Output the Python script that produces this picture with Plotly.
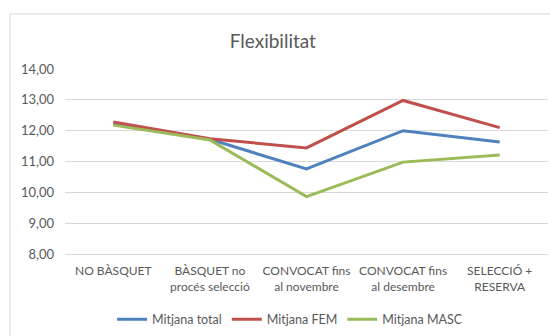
import plotly.graph_objects as go

categories = [
    "NO BÀSQUET",
    "BÀSQUET no<br>procés selecció",
    "CONVOCAT fins<br>al novembre",
    "CONVOCAT fins<br>al desembre",
    "SELECCIÓ +<br>RESERVA",
]
mitjana_total = [12.22, 11.72, 10.76, 12.00, 11.63]
mitjana_fem = [12.28, 11.74, 11.44, 12.98, 12.10]
mitjana_masc = [12.18, 11.70, 9.86, 10.98, 11.21]
y_ticks = [8, 9, 10, 11, 12, 13, 14]

series = [
    ("Mitjana total", mitjana_total, "#4F81BD"),
    ("Mitjana FEM", mitjana_fem, "#C0504D"),
    ("Mitjana MASC", mitjana_masc, "#9BBB59"),
]

font_family = "Lato, Open Sans, sans-serif"
text_color = "#595959"

fig = go.Figure()
for name, values, color in series:
    fig.add_trace(go.Scatter(
        x=categories, y=values, name=name, mode="lines",
        line=dict(color=color, width=3),
    ))

fig.update_layout(
    width=550, height=336,
    margin=dict(l=65, r=2, t=69, b=79),
    paper_bgcolor="white", plot_bgcolor="white",
    separators=",.",
    font=dict(family=font_family, size=12, color=text_color),
    title=dict(text="Flexibilitat", x=0.496, xanchor="center",
               y=1 - 41 / 336, yanchor="middle",
               font=dict(size=19, color=text_color)),
    showlegend=True,
    legend=dict(orientation="h", x=0.466, xanchor="center",
                y=-0.355, yanchor="middle",
                font=dict(size=12.5, color=text_color),
                itemwidth=30, tracegroupgap=0),
    xaxis=dict(range=[-0.5, 4.5], showgrid=False, showline=True,
               linecolor="#D9D9D9", linewidth=1, ticks="",
               ticklabelstandoff=6, tickfont=dict(size=12),
               fixedrange=True),
    yaxis=dict(range=[8, 14], tickvals=y_ticks, tickformat=".2f",
               showgrid=True, gridcolor="#D9D9D9", gridwidth=1,
               zeroline=False, showline=False, ticks="",
               ticklabelstandoff=10, tickfont=dict(size=13),
               fixedrange=True),
    shapes=[dict(type="rect", xref="paper", yref="paper",
                 x0=(10 - 65) / 483, x1=1.2, y0=-0.6, y1=(257 - 13) / 188,
                 line=dict(color="#D9D9D9", width=1), layer="below")],
)

fig.write_html("out.html")
